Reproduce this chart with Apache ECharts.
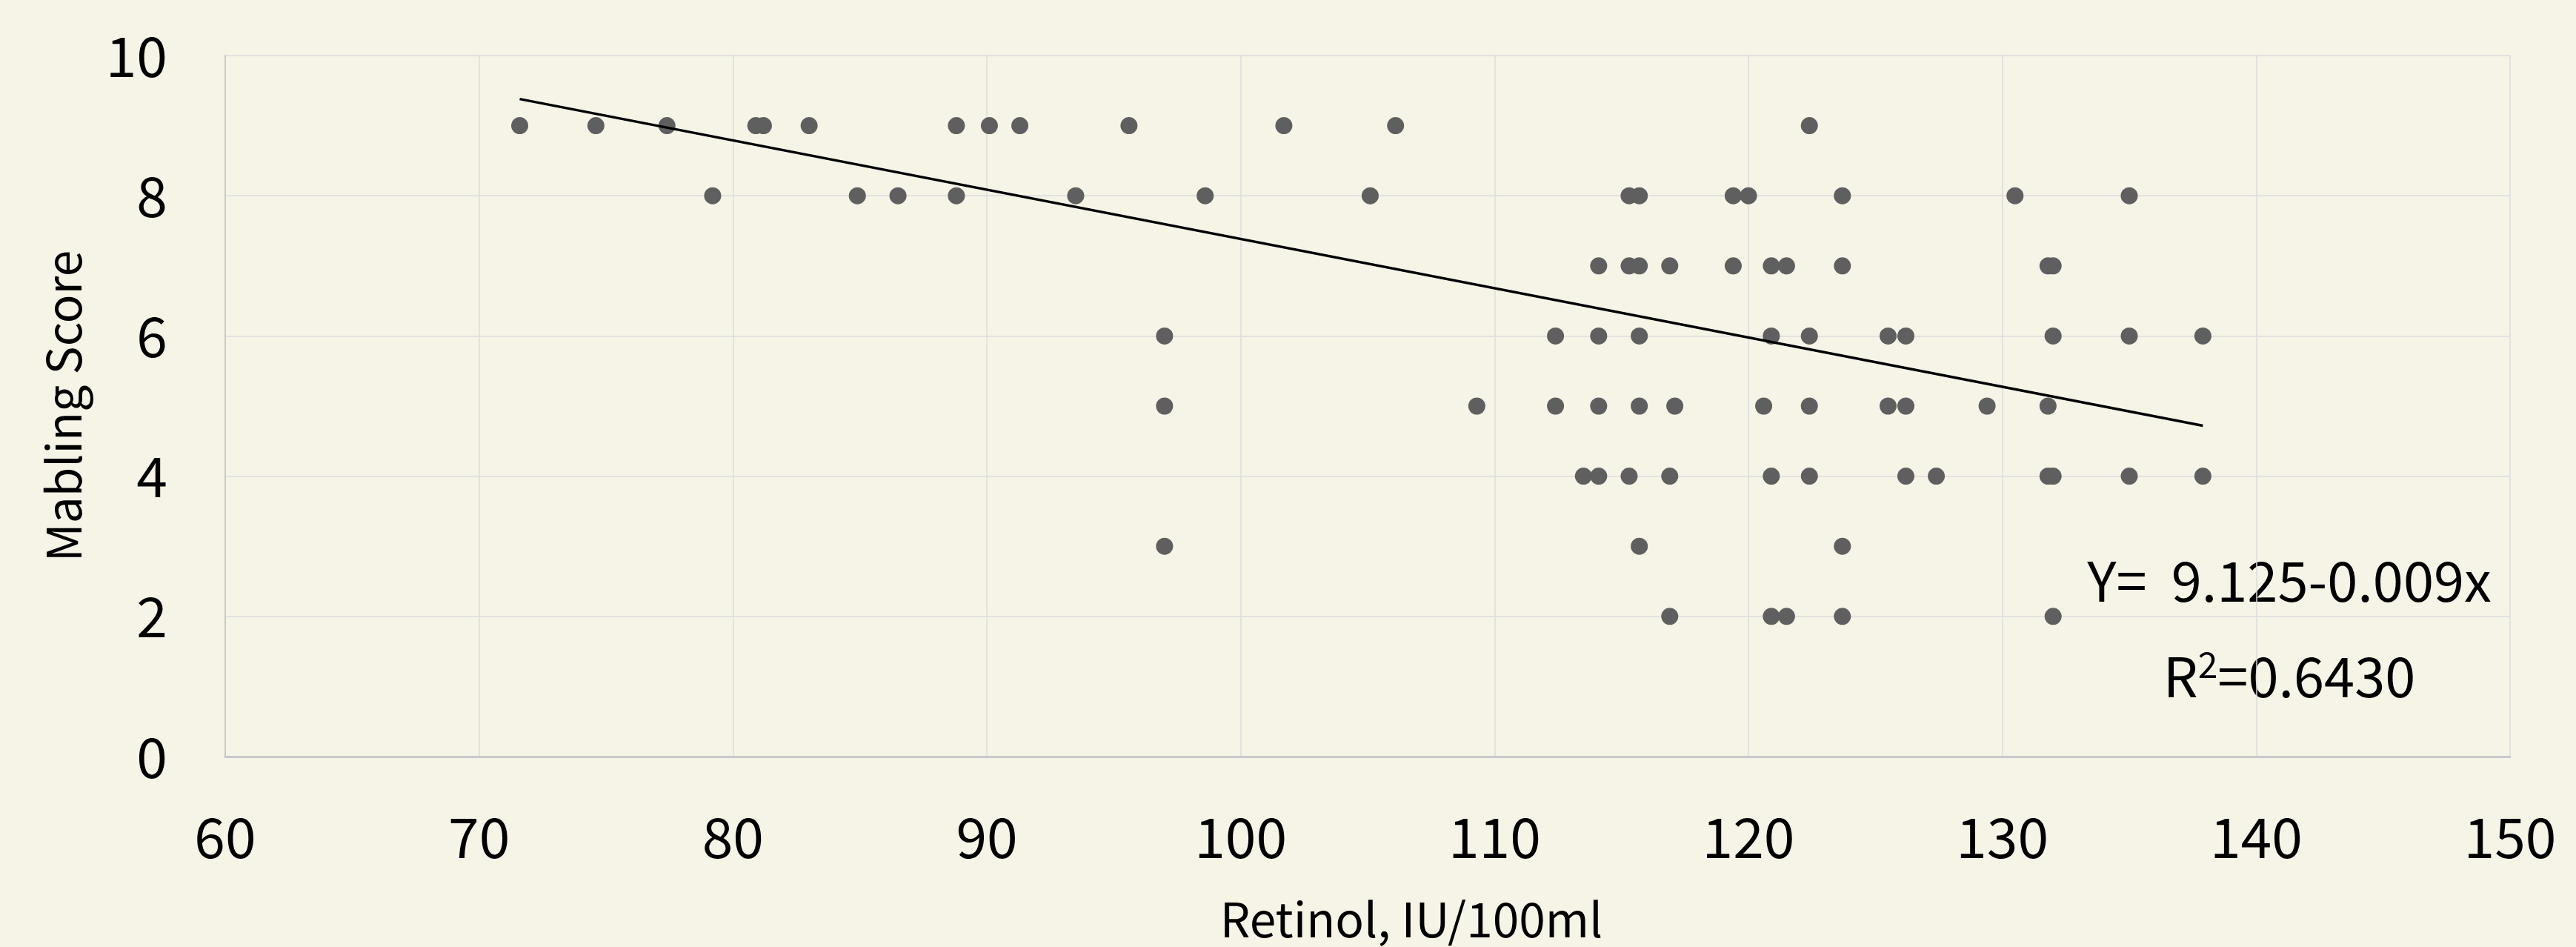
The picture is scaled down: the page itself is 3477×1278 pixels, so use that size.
<!DOCTYPE html>
<html>
<head>
<meta charset="utf-8">
<script src="https://cdn.jsdelivr.net/npm/echarts@6/dist/echarts.min.js"></script>
<style>
html,body{margin:0;padding:0;background:#f5f4e7;}
#chart{width:3477px;height:1278px;}
</style>
</head>
<body>
<div id="chart"></div>
<script>
// Retinol (IU/100ml) of each sample
const retinol = [
  71.6, 74.6, 77.4, 80.9, 81.2, 83.0, 88.8, 90.1, 91.3, 95.6, 101.7, 106.1, 122.4,
  79.2, 84.9, 86.5, 88.8, 93.5, 98.6, 105.1, 115.3, 115.7, 119.4, 120.0, 123.7, 130.5, 135.0,
  114.1, 115.3, 115.7, 116.9, 119.4, 120.9, 121.5, 123.7, 131.8, 132.0,
  97.0, 112.4, 114.1, 115.7, 120.9, 122.4, 125.5, 126.2, 132.0, 135.0, 137.9,
  97.0, 109.3, 112.4, 114.1, 115.7, 117.1, 120.6, 122.4, 125.5, 126.2, 129.4, 131.8,
  113.5, 114.1, 115.3, 116.9, 120.9, 122.4, 126.2, 127.4, 131.8, 132.0, 135.0, 137.9,
  97.0, 115.7, 123.7,
  116.9, 120.9, 121.5, 123.7, 132.0
];
// Marbling score of each sample
const marbling = [
  9, 9, 9, 9, 9, 9, 9, 9, 9, 9, 9, 9, 9,
  8, 8, 8, 8, 8, 8, 8, 8, 8, 8, 8, 8, 8, 8,
  7, 7, 7, 7, 7, 7, 7, 7, 7, 7,
  6, 6, 6, 6, 6, 6, 6, 6, 6, 6, 6,
  5, 5, 5, 5, 5, 5, 5, 5, 5, 5, 5, 5,
  4, 4, 4, 4, 4, 4, 4, 4, 4, 4, 4, 4,
  3, 3, 3,
  2, 2, 2, 2, 2
];
// Trend line end points as drawn
const trendX = [71.6, 137.9];
const trendY = [9.38, 4.72];
// Annotation texts
const eqText = 'Y=  9.125-0.009x';
const r2Value = '=0.6430';
const xTicks = [60, 70, 80, 90, 100, 110, 120, 130, 140, 150];
const yTicks = [0, 2, 4, 6, 8, 10];
const xTitle = 'Retinol, IU/100ml';
const yTitle = 'Mabling Score';

const FONT = '"Noto Sans CJK KR", "Noto Sans", sans-serif';
const chart = echarts.init(document.getElementById('chart'));
chart.setOption({
  backgroundColor: '#f5f4e7',
  animation: false,
  grid: { left: 304, right: 89, top: 75, bottom: 256, containLabel: false },
  xAxis: {
    type: 'value', min: xTicks[0], max: xTicks[xTicks.length - 1], interval: 10,
    name: xTitle, nameLocation: 'middle', nameGap: 188,
    nameTextStyle: { fontFamily: FONT, fontSize: 64, color: '#000', padding: [0, 0, 0, 118] },
    axisLine: { show: true, lineStyle: { color: '#c9c9c9', width: 3 } },
    axisTick: { show: false },
    axisLabel: { margin: 71, fontFamily: FONT, fontSize: 75, color: '#000' },
    splitLine: { show: true, lineStyle: { color: '#dcdcdc', width: 1.5 } }
  },
  yAxis: {
    type: 'value', min: yTicks[0], max: yTicks[yTicks.length - 1], interval: 2,
    name: yTitle, nameLocation: 'middle', nameGap: 186,
    nameTextStyle: { fontFamily: FONT, fontSize: 64, color: '#000' },
    axisLine: { show: true, lineStyle: { color: '#c9c9c9', width: 2 } },
    axisTick: { show: false },
    axisLabel: { margin: 78, fontFamily: FONT, fontSize: 75, color: '#000' },
    splitLine: { show: true, lineStyle: { color: '#dcdcdc', width: 1.5 } }
  },
  series: [
    {
      type: 'scatter',
      data: retinol.map((x, i) => [x, marbling[i]]),
      symbol: 'circle', symbolSize: 23,
      itemStyle: { color: '#5f5f5f', opacity: 1 },
      z: 3
    },
    {
      type: 'line',
      data: trendX.map((x, i) => [x, trendY[i]]),
      symbol: 'none',
      lineStyle: { color: '#000', width: 3.5 },
      z: 4
    }
  ],
  graphic: [
    {
      type: 'text', x: 3090, y: 784,
      style: { text: eqText, textAlign: 'center', textVerticalAlign: 'middle',
        fontFamily: FONT, fontSize: 74, fill: '#000' }
    },
    {
      type: 'text', x: 3090, y: 913,
      style: { text: '{r|R}{s|2}{r|' + r2Value + '}', textAlign: 'center', textVerticalAlign: 'middle',
        fill: '#000',
        rich: {
          r: { fontFamily: FONT, fontSize: 74, color: '#000', lineHeight: 80 },
          s: { fontFamily: FONT, fontSize: 48, color: '#000', verticalAlign: 'top', lineHeight: 80 }
        }
      }
    }
  ]
});
</script>
</body>
</html>
